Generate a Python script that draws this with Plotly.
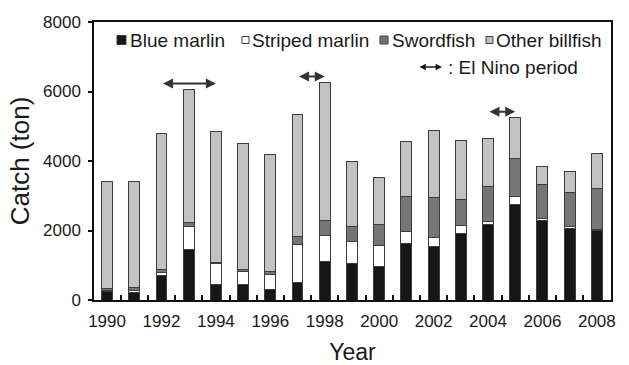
import plotly.graph_objects as go

# Annual billfish catch (ton) by species group, stacked
years = list(range(1990, 2009))
blue_marlin = [255, 220, 710, 1460, 450, 450, 310, 500, 1100, 1055, 960, 1630, 1535, 1920, 2180, 2735, 2285, 2050, 2010]
striped_marlin = [15, 40, 75, 650, 610, 375, 430, 1110, 760, 615, 595, 335, 270, 220, 75, 240, 65, 60, 20]
swordfish = [67, 100, 80, 120, 25, 40, 70, 230, 420, 440, 625, 1010, 1150, 760, 1010, 1110, 960, 980, 1180]
other_billfish = [3060, 3060, 3915, 3830, 3755, 3625, 3370, 3490, 3980, 1890, 1340, 1575, 1910, 1690, 1390, 1175, 540, 610, 1010]

series_names = ["Blue marlin", "Striped marlin", "Swordfish", "Other billfish"]
series_colors = ["#161616", "#ffffff", "#767676", "#c1c2c4"]

# El Nino periods (start year, end year) and the height of each arrow
el_nino_start = [1992, 1997, 2004]
el_nino_end = [1994, 1998, 2005]
el_nino_height = [6230, 6430, 5420]

y_ticks = [0, 2000, 4000, 6000, 8000]
x_ticks = list(range(1990, 2009, 2))

FONT = "Liberation Sans, Arial, sans-serif"
W, H = 629, 365
ML, MR, MT, MB = 94, 18, 22, 65
PW, PH = W - ML - MR, H - MT - MB


def px(x):
    return (x - ML) / PW


def py(y):
    return (H - MB - y) / PH


fig = go.Figure()
for name, vals, col in zip(series_names,
                           [blue_marlin, striped_marlin, swordfish, other_billfish],
                           series_colors):
    fig.add_trace(go.Bar(
        x=years, y=vals, name=name, width=0.4,
        marker=dict(color=col, line=dict(color="#3c3c3c", width=1)),
        showlegend=False,
    ))

# El Nino double-headed arrows
for s, e, h in zip(el_nino_start, el_nino_end, el_nino_height):
    fig.add_annotation(
        x=e, y=h, ax=s, ay=h, xref="x", yref="y", axref="x", ayref="y",
        text="", showarrow=True, arrowside="end+start", arrowhead=2,
        arrowsize=1, arrowwidth=2, arrowcolor="#333333",
    )

# Legend drawn as boxes + labels along the top of the plot
legend_items = [
    # (square x0, size, text x)
    (117, 9, 128),
    (242, 7, 250),
    (380, 8, 390),
    (486, 7, 494),
]
row_y = 40
for (x0, sz, tx), name, col in zip(legend_items, series_names, series_colors):
    fig.add_shape(
        type="rect", xref="paper", yref="paper",
        x0=px(x0), x1=px(x0 + sz), y0=py(row_y + sz / 2), y1=py(row_y - sz / 2),
        fillcolor=col, line=dict(color="#3c3c3c", width=1),
    )
    fig.add_annotation(
        x=px(tx), y=py(row_y), xref="paper", yref="paper", xanchor="left",
        yanchor="middle", text=name, showarrow=False,
        font=dict(family=FONT, size=19, color="#1a1a1a"),
    )

row2_y = 67
fig.add_annotation(
    x=px(442), y=py(row2_y), xref="paper", yref="paper", ax=-24, ay=0,
    text="", showarrow=True, arrowside="end+start", arrowhead=2,
    arrowsize=0.8, arrowwidth=1.6, arrowcolor="#1a1a1a",
)
fig.add_annotation(
    x=px(446), y=py(row2_y), xref="paper", yref="paper", xanchor="left",
    yanchor="middle", text=": El Nino period", showarrow=False,
    font=dict(family=FONT, size=19, color="#1a1a1a"),
)

fig.update_layout(
    width=W, height=H,
    margin=dict(l=ML, r=MR, t=MT, b=MB),
    paper_bgcolor="white", plot_bgcolor="white",
    barmode="stack",
    font=dict(family=FONT, color="#1a1a1a"),
    xaxis=dict(
        range=[1989.52, 2008.52], tickvals=x_ticks, ticks="", automargin=False,
        showline=True, linecolor="#111111", linewidth=1.5, mirror=True,
        showgrid=False, zeroline=False, ticklabelstandoff=5,
        tickfont=dict(family=FONT, size=17, color="#1a1a1a"),
        minor=dict(tickvals=[y + 0.5 for y in years[:-1]], ticks="inside",
                   ticklen=5, tickwidth=1.5, tickcolor="#111111", showgrid=False),
        title=dict(text="Year", font=dict(family=FONT, size=23, color="#1a1a1a"),
                   standoff=14),
    ),
    yaxis=dict(
        range=[0, 8000], tickvals=y_ticks, ticks="outside", ticklen=4, automargin=False,
        tickwidth=1.5, tickcolor="#111111",
        showline=True, linecolor="#111111", linewidth=1.5, mirror=True,
        showgrid=False, zeroline=False, ticklabelstandoff=4,
        tickfont=dict(family=FONT, size=17, color="#1a1a1a"),
        title=dict(text="Catch (ton)", font=dict(family=FONT, size=26, color="#1a1a1a"),
                   standoff=6),
    ),
)

fig.write_html("out.html")
